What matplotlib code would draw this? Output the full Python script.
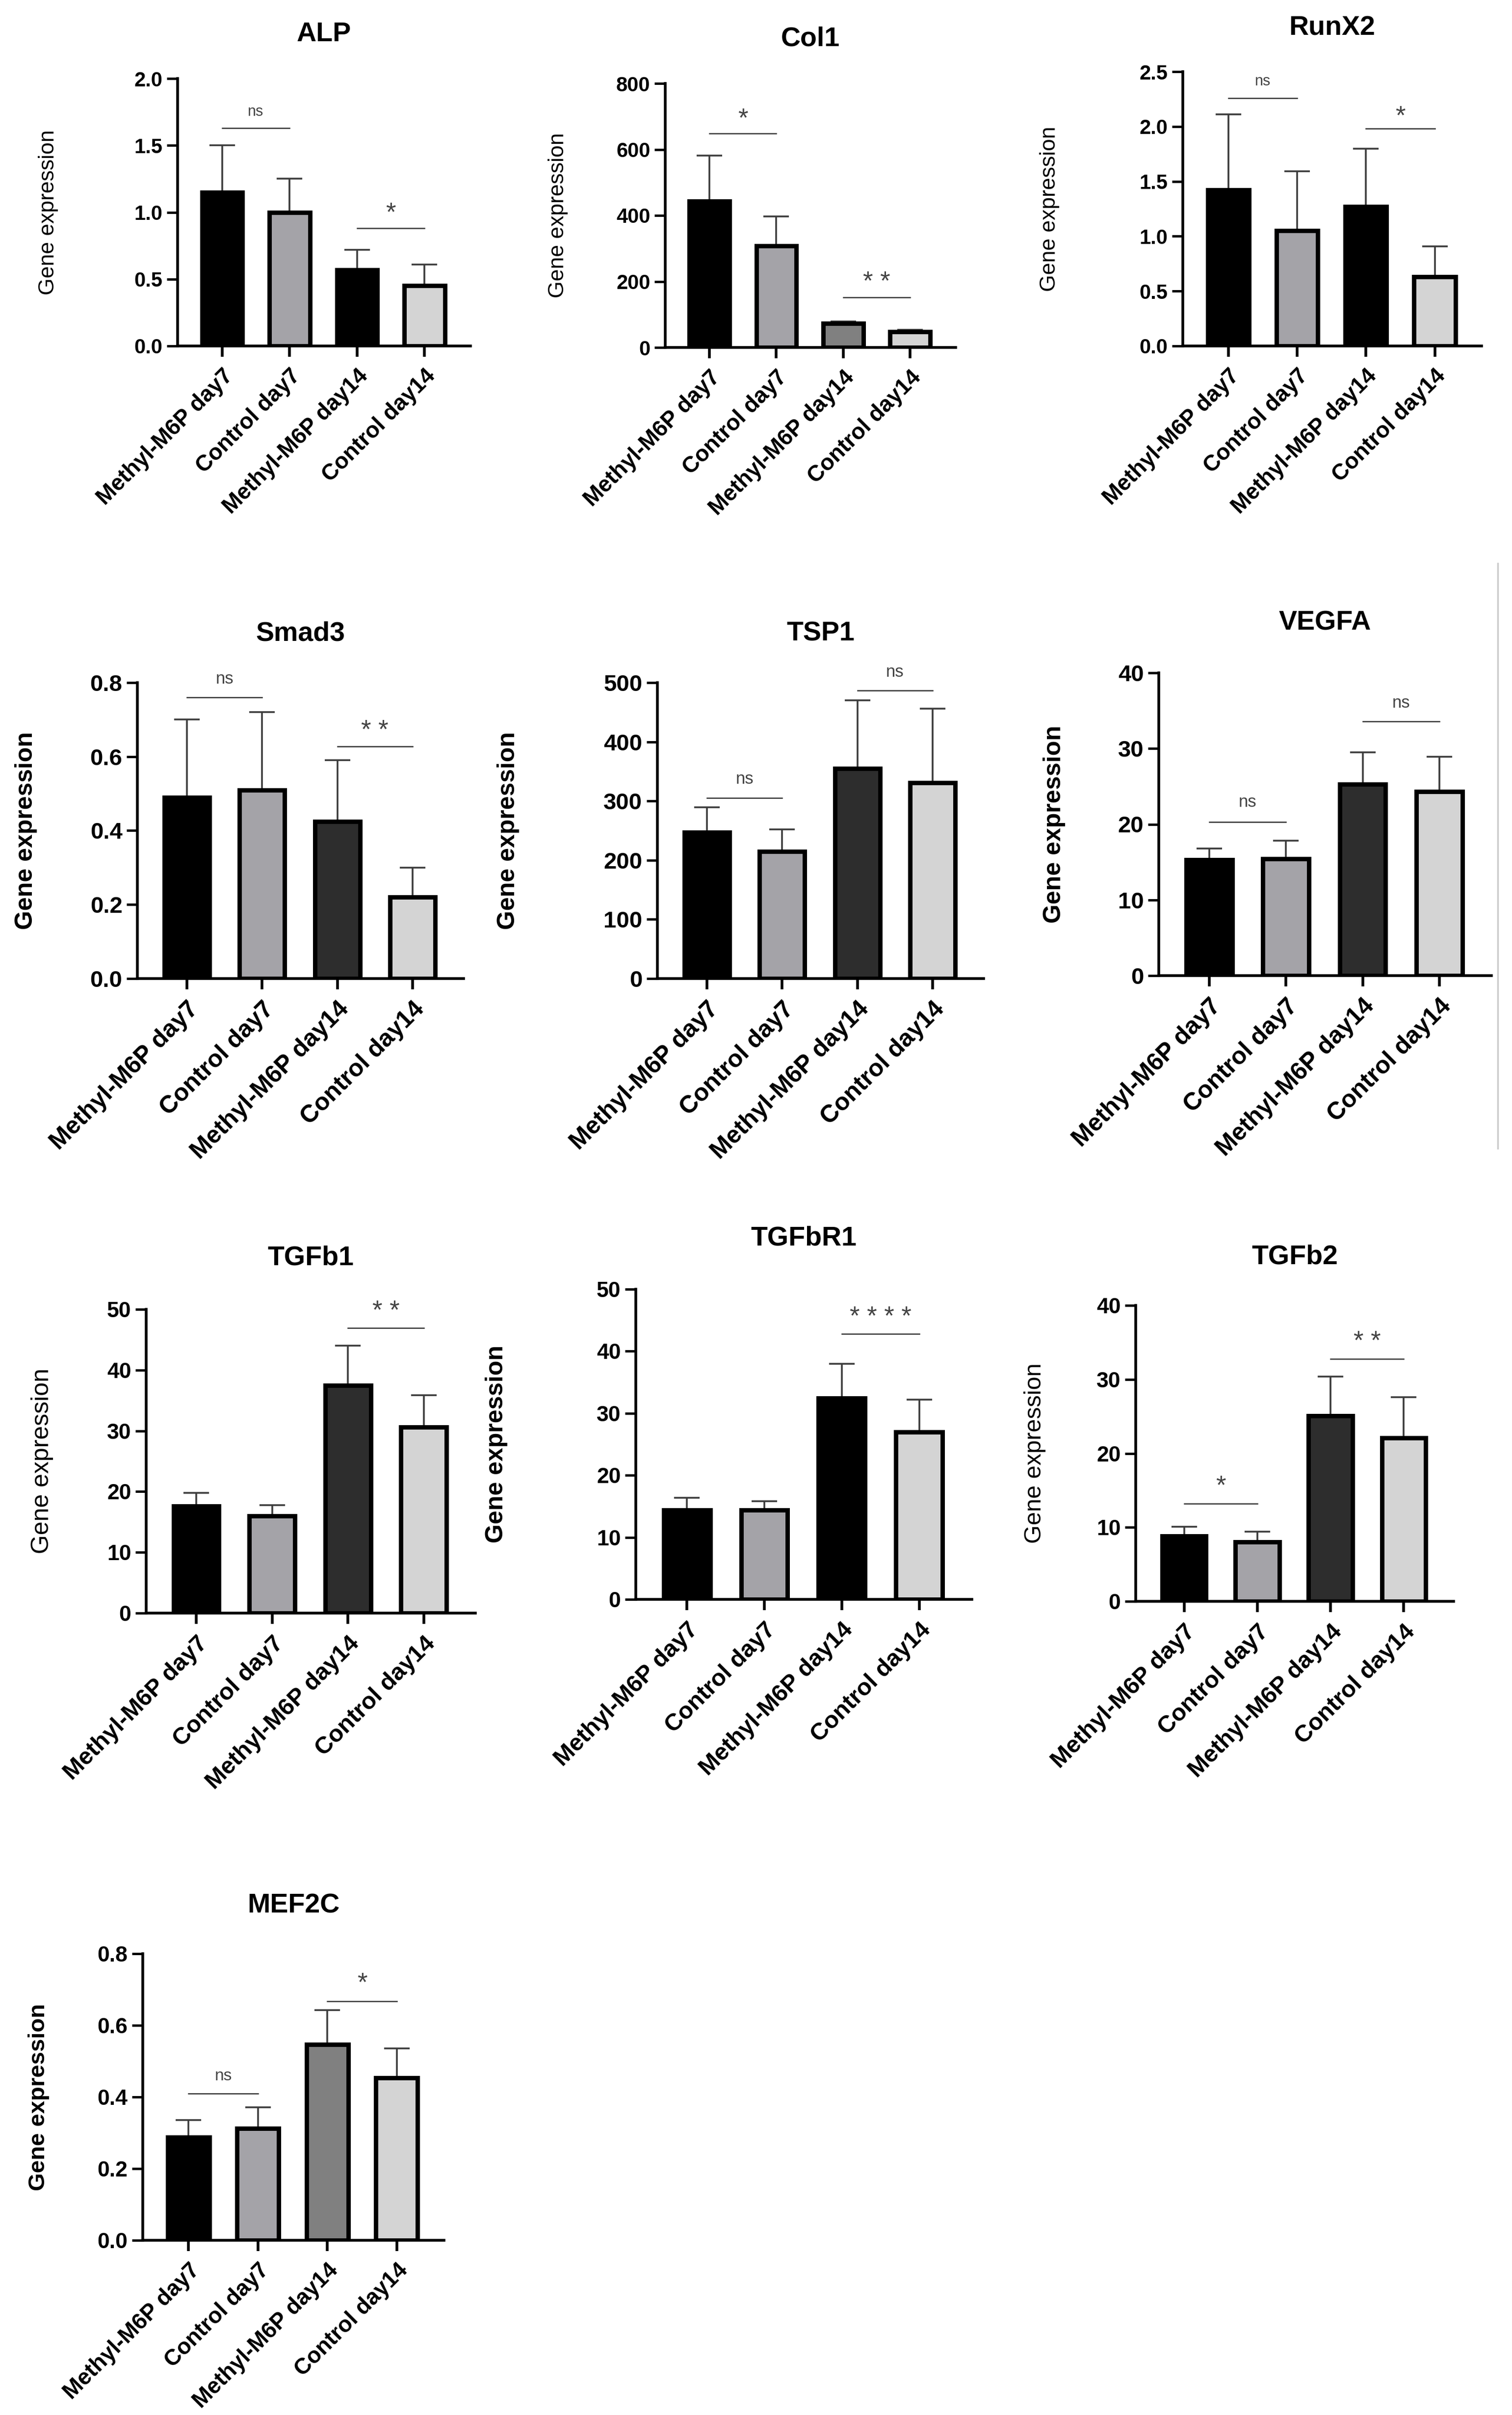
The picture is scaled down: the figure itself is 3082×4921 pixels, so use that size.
import matplotlib
matplotlib.use("Agg")
import matplotlib.pyplot as plt
from matplotlib.lines import Line2D
import numpy as np

plt.rcParams['font.family'] = ['Liberation Sans', 'DejaVu Sans']

groups = ["Methyl-M6P day7", "Control day7", "Methyl-M6P day14", "Control day14"]

# mean and upper SD
alp_mean = [1.15, 1.00, 0.57, 0.45]
alp_sd = [0.35, 0.25, 0.15, 0.16]
alp_ticks = [0, 0.5, 1.0, 1.5, 2.0]
alp_sig = [(0, 1, "ns", 1.63, 1.75), (2, 3, "*", 0.88, 0.99)]

col1_mean = [443, 308, 73, 48]
col1_sd = [138, 89, 6, 6]
col1_ticks = [0, 200, 400, 600, 800]
col1_sig = [(0, 1, "*", 649, 692), (2, 3, "* *", 152, 197)]

runx2_mean = [1.42, 1.05, 1.27, 0.63]
runx2_sd = [0.69, 0.54, 0.53, 0.28]
runx2_ticks = [0, 0.5, 1.0, 1.5, 2.0, 2.5]
runx2_sig = [(0, 1, "ns", 2.26, 2.41), (2, 3, "*", 1.98, 2.09)]

smad3_mean = [0.49, 0.51, 0.425, 0.22]
smad3_sd = [0.21, 0.21, 0.165, 0.08]
smad3_ticks = [0, 0.2, 0.4, 0.6, 0.8]
smad3_sig = [(0, 1, "ns", 0.76, 0.81), (2, 3, "* *", 0.628, 0.669)]

tsp1_mean = [247, 215, 355, 331]
tsp1_sd = [42, 37, 115, 125]
tsp1_ticks = [0, 100, 200, 300, 400, 500]
tsp1_sig = [(0, 1, "ns", 305, 337), (2, 3, "ns", 487, 518)]

vegfa_mean = [15.3, 15.4, 25.3, 24.3]
vegfa_sd = [1.5, 2.4, 4.2, 4.6]
vegfa_ticks = [0, 10, 20, 30, 40]
vegfa_sig = [(0, 1, "ns", 20.3, 22.9), (2, 3, "ns", 33.6, 36.0)]

tgfb1_mean = [17.6, 16.0, 37.5, 30.6]
tgfb1_sd = [2.2, 1.8, 6.5, 5.3]
tgfb1_ticks = [0, 10, 20, 30, 40, 50]
tgfb1_sig = [(2, 3, "* *", 46.9, 49.6)]

tgfbr1_mean = [14.4, 14.4, 32.4, 27.0]
tgfbr1_sd = [2.0, 1.4, 5.6, 5.2]
tgfbr1_ticks = [0, 10, 20, 30, 40, 50]
tgfbr1_sig = [(2, 3, "* * * *", 42.8, 45.4)]

tgfb2_mean = [8.8, 8.0, 25.1, 22.1]
tgfb2_sd = [1.25, 1.4, 5.3, 5.5]
tgfb2_ticks = [0, 10, 20, 30, 40]
tgfb2_sig = [(0, 1, "*", 13.2, 15.5), (2, 3, "* *", 32.8, 35.0)]

mef2c_mean = [0.288, 0.312, 0.546, 0.453]
mef2c_sd = [0.047, 0.059, 0.097, 0.082]
mef2c_ticks = [0, 0.2, 0.4, 0.6, 0.8]
mef2c_sig = [(0, 1, "ns", 0.409, 0.458), (2, 3, "*", 0.667, 0.716)]

BLACK = "#000000"
GREY = "#a4a3a8"
LIGHT = "#d4d4d4"
DARK = "#2d2d2d"
MID = "#808080"

panels = [
    ("ALP", alp_mean, alp_sd, alp_ticks, alp_sig, BLACK),
    ("Col1", col1_mean, col1_sd, col1_ticks, col1_sig, MID),
    ("RunX2", runx2_mean, runx2_sd, runx2_ticks, runx2_sig, BLACK),
    ("Smad3", smad3_mean, smad3_sd, smad3_ticks, smad3_sig, DARK),
    ("TSP1", tsp1_mean, tsp1_sd, tsp1_ticks, tsp1_sig, DARK),
    ("VEGFA", vegfa_mean, vegfa_sd, vegfa_ticks, vegfa_sig, DARK),
    ("TGFb1", tgfb1_mean, tgfb1_sd, tgfb1_ticks, tgfb1_sig, DARK),
    ("TGFbR1", tgfbr1_mean, tgfbr1_sd, tgfbr1_ticks, tgfbr1_sig, BLACK),
    ("TGFb2", tgfb2_mean, tgfb2_sd, tgfb2_ticks, tgfb2_sig, DARK),
    ("MEF2C", mef2c_mean, mef2c_sd, mef2c_ticks, mef2c_sig, MID),
]

# layout in output pixels: axes box (left, top, right, bottom), ylabel x,
# title gap above axes, ylabel bold, font sizes (ytick, xtick, ylabel, ns)
W, H = 3082, 4921
layout = [
    ((362, 160, 959, 705), 99, 90, False, (30, 33, 32, 22)),
    ((1356, 170, 1948, 708), 1137, 90, False, (30, 33, 32, 22)),
    ((2411, 146, 3020, 705), 2139, 88, False, (30, 33, 32, 22)),
    ((280, 1391, 945, 1994), 53, 99, True, (34, 36, 36, 25)),
    ((1340, 1391, 2005, 1994), 1036, 99, True, (34, 36, 36, 25)),
    ((2362, 1371, 3040, 1988), 2149, 102, True, (34, 36, 36, 25)),
    ((298, 2668, 969, 3287), 86, 104, False, (32, 35, 36, 25)),
    ((1296, 2627, 1981, 3259), 1012, 104, True, (32, 35, 36, 25)),
    ((2315, 2660, 2963, 3263), 2110, 98, False, (32, 35, 35, 25)),
    ((291, 3981, 905, 4565), 79, 97, True, (32, 33, 34, 24)),
]

fig = plt.figure(figsize=(W / 100, H / 100), dpi=100)
fig.patch.set_facecolor("white")

x = np.arange(len(groups))
for (gene, mean, sd, ticks, sig, third), (box, lab_x, tgap, lab_bold, fs) in zip(panels, layout):
    l, t, r, b = box
    ax = fig.add_axes([l / W, 1 - b / H, (r - l) / W, (b - t) / H])
    fills = [BLACK, GREY, third, LIGHT]

    ax.errorbar(x, mean, yerr=[np.zeros(len(mean)), sd], fmt="none",
                ecolor="#3c3c3c", elinewidth=2.6, capsize=19, capthick=2.6, zorder=1)
    ax.bar(x, mean, width=0.6, color=fills, edgecolor="black", linewidth=6.5, zorder=2)

    for i, j, lab, ly, ty in sig:
        ax.plot([i, j], [ly, ly], color="#333333", lw=1.8, clip_on=False)
        size = fs[3] if lab == "ns" else 38
        ax.text((i + j) / 2, ty, lab, ha="center", va="center", fontsize=size,
                color="#444444", clip_on=False)

    ax.set_xlim(-0.66, 3.68)
    ax.set_ylim(0, ticks[-1])
    ax.set_yticks(ticks)
    dec = 1 if any(v != int(v) for v in ticks) else 0
    ax.set_yticklabels([f"{v:.{dec}f}" for v in ticks], fontweight="bold")
    ax.set_xticks(x)
    ax.set_xticklabels(groups, rotation=45, ha="right", va="top",
                       rotation_mode="anchor", fontweight="bold")

    for s in ["top", "right"]:
        ax.spines[s].set_visible(False)
    for s in ["left", "bottom"]:
        ax.spines[s].set_linewidth(4)
    ax.tick_params(axis="y", length=16, width=3.5, pad=6, labelsize=fs[0])
    ax.tick_params(axis="x", length=16, width=4, pad=12, labelsize=fs[1])

    ax.text(0.5, 1 + tgap / (b - t), gene, transform=ax.transAxes, ha="center",
            va="center", fontsize=40, fontweight="bold")
    fig.text(lab_x / W, 1 - (t + b) / 2 / H, "Gene expression", rotation=90,
             ha="center", va="center", fontsize=fs[2],
             fontweight="bold" if lab_bold else "normal")

# thin grey frame line to the right of VEGFA
fig.add_artist(Line2D([3053 / W, 3053 / W], [1 - 1148 / H, 1 - 2340 / H],
                      color="#cccccc", lw=2.5))

fig.savefig("out.png", dpi=100, facecolor="white")
